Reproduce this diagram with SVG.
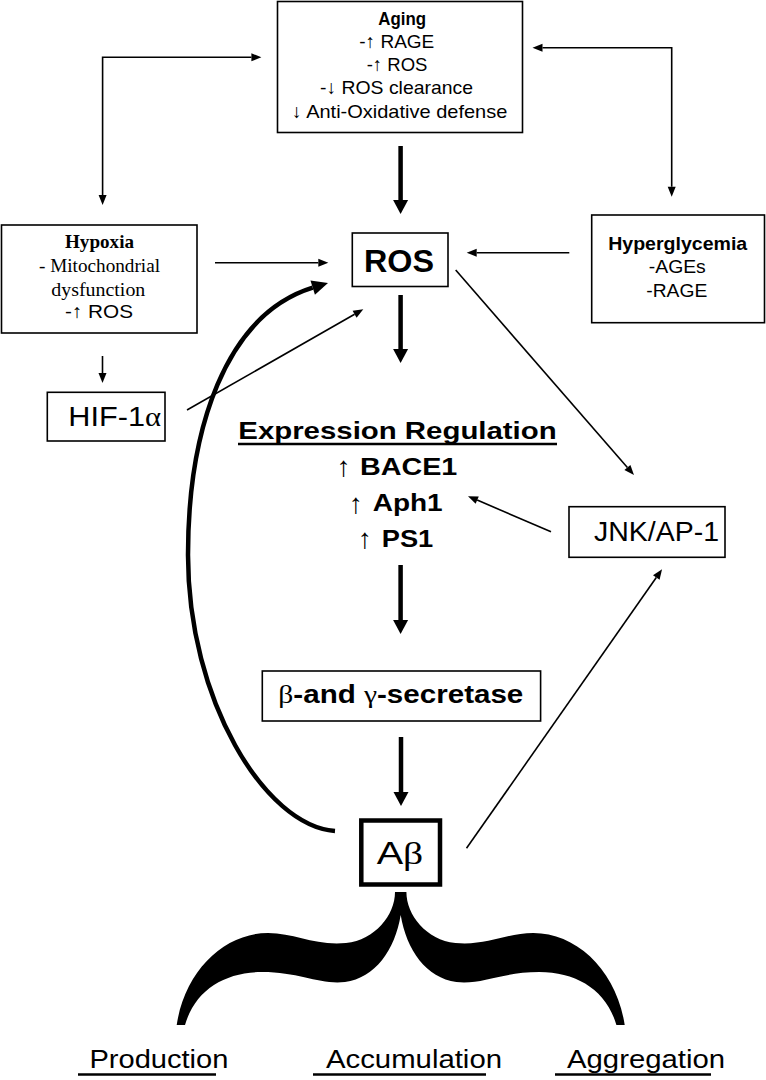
<svg xmlns="http://www.w3.org/2000/svg" width="766" height="1080" viewBox="0 0 766 1080">
<style>
.box{fill:#fff;stroke:#000;stroke-width:1.6}
.s{font-family:"Liberation Sans",Arial,sans-serif;fill:#000}
.t{font-family:"Liberation Serif","Times New Roman",serif;fill:#000}
.b{font-weight:bold}
.n{font-weight:normal}
.ar{font-family:"Liberation Serif","Times New Roman",serif;fill:#000;text-anchor:middle}
.thin{fill:none;stroke:#000;stroke-width:1.6}
.thick{fill:none;stroke:#000;stroke-width:4.5}
.u{stroke:#000;stroke-width:2.5}
</style>
<defs>
<marker id="ah" markerUnits="userSpaceOnUse" markerWidth="10" markerHeight="8" refX="0" refY="4" orient="auto-start-reverse" overflow="visible"><path d="M0,0 L10,4 L0,8 Z" fill="#000"/></marker>
<marker id="ahT" markerUnits="userSpaceOnUse" markerWidth="14" markerHeight="15" refX="0" refY="7.5" orient="auto" overflow="visible"><path d="M0,0 L14,7.5 L0,15 Z" fill="#000"/></marker>
<marker id="ahC" markerUnits="userSpaceOnUse" markerWidth="16" markerHeight="15" refX="0" refY="7.5" orient="auto" overflow="visible"><path d="M0,0 L16,7.5 L0,15 Z" fill="#000"/></marker>
</defs>
<rect width="766" height="1080" fill="#fff"/>

<g id="connectors">
<path class="thin" d="M251.4,57.3 H102.6 V195" marker-start="url(#ah)" marker-end="url(#ah)"/>
<path class="thin" d="M542.5,47.7 H671.7 V186.7" marker-start="url(#ah)" marker-end="url(#ah)"/>
<path class="thick" d="M400.6,146 V200" marker-end="url(#ahT)"/>
<path class="thick" d="M400.6,295 V349" marker-end="url(#ahT)"/>
<path class="thick" d="M400.6,565 V620" marker-end="url(#ahT)"/>
<path class="thick" d="M401,737 V792" marker-end="url(#ahT)"/>
<path class="thin" d="M215,262.7 H318.3" marker-end="url(#ah)"/>
<path class="thin" d="M569.3,252.7 H476.7" marker-end="url(#ah)"/>
<path class="thin" d="M102.5,356 V373" marker-end="url(#ah)"/>
<path class="thin" d="M187,410 L354.6,314.3" marker-end="url(#ah)"/>
<path class="thin" d="M455.7,270 L627.4,467.5" marker-end="url(#ah)"/>
<path class="thin" d="M551,531.7 L477.2,500.1" marker-end="url(#ah)"/>
<path class="thin" d="M466.5,848.3 L656.3,577.5" marker-end="url(#ah)"/>
<path class="thick" d="M335,831 C265,826 188,700 188,555 C188,430 225,315 312.7,287.7" marker-end="url(#ahC)"/>
</g>

<g id="node-aging">
<rect class="box" x="277.5" y="1.5" width="245" height="131"/>
<text class="s b" x="378.3" y="25" font-size="18" textLength="47.7" lengthAdjust="spacingAndGlyphs">Aging</text>
<text class="s" x="359.3" y="48.3" font-size="19" textLength="75" lengthAdjust="spacingAndGlyphs">-<tspan class="t">↑</tspan> RAGE</text>
<text class="s" x="366.7" y="71" font-size="19" textLength="60.7" lengthAdjust="spacingAndGlyphs">-<tspan class="t">↑</tspan> ROS</text>
<text class="s" x="320" y="94.3" font-size="19" textLength="153" lengthAdjust="spacingAndGlyphs">-<tspan class="t">↓</tspan> ROS clearance</text>
<text class="s" x="291.7" y="117.7" font-size="19" textLength="215.6" lengthAdjust="spacingAndGlyphs"><tspan class="t">↓</tspan> Anti-Oxidative defense</text>
</g>

<g id="node-ros">
<rect class="box" x="352.3" y="233" width="95.7" height="53.5"/>
<text class="s b" x="364" y="271.7" font-size="32" textLength="70" lengthAdjust="spacingAndGlyphs">ROS</text>
</g>

<g id="node-hypoxia">
<rect class="box" x="1.5" y="225" width="195.5" height="108"/>
<text class="t b" x="65" y="248.3" font-size="19" textLength="69" lengthAdjust="spacingAndGlyphs">Hypoxia</text>
<text class="t" x="39" y="271.7" font-size="19" textLength="121" lengthAdjust="spacingAndGlyphs">- Mitochondrial</text>
<text class="t" x="51.3" y="295.5" font-size="19" textLength="94" lengthAdjust="spacingAndGlyphs">dysfunction</text>
<text class="s" x="65" y="318.3" font-size="19" textLength="68" lengthAdjust="spacingAndGlyphs">-<tspan class="t">↑</tspan> ROS</text>
</g>

<g id="node-hyperglycemia">
<rect class="box" x="591.7" y="215" width="172.8" height="107.7"/>
<text class="s b" x="608.2" y="250" font-size="19" textLength="139" lengthAdjust="spacingAndGlyphs">Hyperglycemia</text>
<text class="s" x="648.8" y="273.3" font-size="19" textLength="57" lengthAdjust="spacingAndGlyphs">-AGEs</text>
<text class="s" x="646.3" y="296.7" font-size="19" textLength="61" lengthAdjust="spacingAndGlyphs">-RAGE</text>
</g>

<g id="node-hif">
<rect class="box" x="47.3" y="392.3" width="117.7" height="48.7"/>
<text class="s" x="68.3" y="426" font-size="28" textLength="92.7" lengthAdjust="spacingAndGlyphs">HIF-1<tspan class="t">α</tspan></text>
</g>

<g id="node-jnk">
<rect class="box" x="569" y="506.7" width="156" height="50.6"/>
<text class="s" x="594" y="540.7" font-size="28" textLength="125" lengthAdjust="spacingAndGlyphs">JNK/AP-1</text>
</g>

<g id="node-expression">
<text class="s b" x="238.3" y="439.3" font-size="24" textLength="318.4" lengthAdjust="spacingAndGlyphs">Expression Regulation</text>
<line class="u" x1="238" y1="444" x2="557" y2="444"/>
<text class="ar" x="343.7" y="476" font-size="28">↑</text>
<text class="s b" x="360" y="474.7" font-size="24" textLength="97.3" lengthAdjust="spacingAndGlyphs">BACE1</text>
<text class="ar" x="356" y="512.5" font-size="28">↑</text>
<text class="s b" x="372.7" y="510.7" font-size="24" textLength="70" lengthAdjust="spacingAndGlyphs">Aph1</text>
<text class="ar" x="365" y="547.5" font-size="28">↑</text>
<text class="s b" x="381.7" y="546.7" font-size="24" textLength="51.6" lengthAdjust="spacingAndGlyphs">PS1</text>
</g>

<g id="node-secretase">
<rect class="box" x="262.3" y="671" width="278.3" height="50"/>
<text class="s b" x="278.3" y="703.3" font-size="26" textLength="245" lengthAdjust="spacingAndGlyphs"><tspan class="t n">β</tspan>-and <tspan class="t n">γ</tspan>-secretase</text>
</g>

<g id="node-abeta">
<rect x="361.3" y="820.5" width="78.7" height="64" fill="#fff" stroke="#000" stroke-width="4.5"/>
<text class="s" x="376.7" y="864" font-size="32" textLength="46.6" lengthAdjust="spacingAndGlyphs">A<tspan class="t">β</tspan></text>
</g>

<g id="brace">
<path fill="#000" d="M395,892 C395,915 375,940 346,943 C315,946 295,933 268,933 C225,933 185,970 176.7,1025 L185,1025 C195,990 225,972 262,972 C300,972 320,985 345,982 C375,978 395,950 400.7,915 C406.4,950 426.4,978 456.4,982 C481.4,985 501.4,972 539.4,972 C576.4,972 606.4,990 616.4,1025 L624.7,1025 C616.4,970 576.4,933 533.4,933 C506.4,933 486.4,946 455.4,943 C426.4,940 406.4,915 406.4,892 Z"/>
</g>

<g id="node-outcomes">
<text class="s" x="89.4" y="1068.3" font-size="25" textLength="139" lengthAdjust="spacingAndGlyphs">Production</text>
<line class="u" x1="78" y1="1074.5" x2="216" y2="1074.5"/>
<text class="s" x="326" y="1068.3" font-size="25" textLength="176" lengthAdjust="spacingAndGlyphs">Accumulation</text>
<line class="u" x1="313" y1="1074.5" x2="486" y2="1074.5"/>
<text class="s" x="567" y="1068.3" font-size="25" textLength="158" lengthAdjust="spacingAndGlyphs">Aggregation</text>
<line class="u" x1="555" y1="1074.5" x2="711" y2="1074.5"/>
</g>
</svg>
